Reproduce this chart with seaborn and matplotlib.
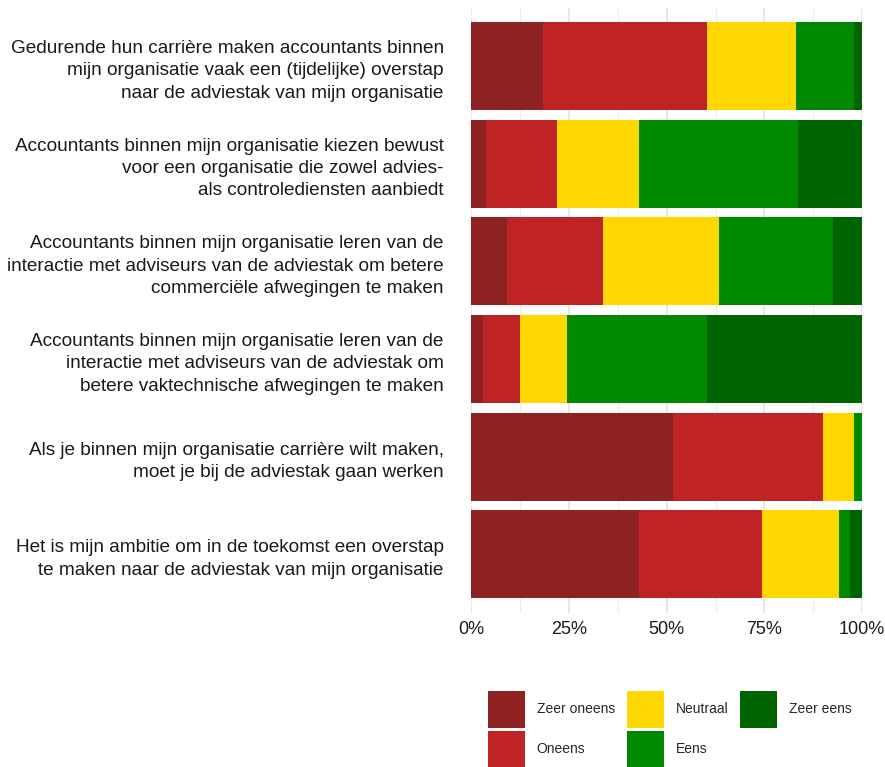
import matplotlib
matplotlib.use("Agg")
import matplotlib.pyplot as plt
import seaborn as sns
import pandas as pd
import numpy as np
from matplotlib.patches import Patch

categories = [
    "Gedurende hun carrière maken accountants binnen\nmijn organisatie vaak een (tijdelijke) overstap\nnaar de adviestak van mijn organisatie",
    "Accountants binnen mijn organisatie kiezen bewust\nvoor een organisatie die zowel advies-\nals controlediensten aanbiedt",
    "Accountants binnen mijn organisatie leren van de\ninteractie met adviseurs van de adviestak om betere\ncommerciële afwegingen te maken",
    "Accountants binnen mijn organisatie leren van de\ninteractie met adviseurs van de adviestak om\nbetere vaktechnische afwegingen te maken",
    "Als je binnen mijn organisatie carrière wilt maken,\nmoet je bij de adviestak gaan werken",
    "Het is mijn ambitie om in de toekomst een overstap\nte maken naar de adviestak van mijn organisatie",
]
levels = ["Zeer oneens", "Oneens", "Neutraal", "Eens", "Zeer eens"]
zeer_oneens = [18.3, 3.6, 9.2, 3.0, 51.5, 42.9]
oneens = [42.1, 18.4, 24.4, 9.5, 38.4, 31.6]
neutraal = [22.6, 21.0, 29.9, 12.0, 8.0, 19.6]
eens = [14.9, 40.7, 29.2, 35.9, 2.1, 2.8]
zeer_eens = [2.1, 16.3, 7.3, 39.6, 0.0, 3.1]
colors = ["#8E2222", "#C02323", "#FFD700", "#008800", "#006400"]
tick_vals = [0, 25, 50, 75, 100]
tick_labels = ["0%", "25%", "50%", "75%", "100%"]

df = pd.DataFrame({"vraag": categories, "Zeer oneens": zeer_oneens, "Oneens": oneens,
                   "Neutraal": neutraal, "Eens": eens, "Zeer eens": zeer_eens})
cum = df[levels].cumsum(axis=1)
cum["vraag"] = df["vraag"]

sns.set_style("white")
plt.rcParams["font.family"] = ["Liberation Sans", "DejaVu Sans"]

fig = plt.figure(figsize=(8.85, 7.67), dpi=100)
ax = fig.add_axes([471.5 / 885, 1 - 613 / 767, (862 - 471.5) / 885, (613 - 7.5) / 767])

for lvl, col in reversed(list(zip(levels, colors))):
    sns.barplot(data=cum, x=lvl, y="vraag", order=categories, orient="h",
                color=col, width=0.9, saturation=1, ax=ax, linewidth=0)

ax.set_xlim(0, 100)
ax.set_ylim(len(categories) - 0.4, -0.6)
ax.set_xticks(tick_vals)
ax.set_xticklabels(tick_labels)
ax.set_xticks([12.5, 37.5, 62.5, 87.5], minor=True)
ax.set_axisbelow(True)
ax.grid(axis="x", which="major", color="#E3E3E3", linewidth=1.2)
ax.grid(axis="x", which="minor", color="#EDEDED", linewidth=0.9)
ax.grid(axis="y", visible=False)
for s in ax.spines.values():
    s.set_visible(False)
ax.set_xlabel("")
ax.set_ylabel("")
ax.tick_params(axis="y", length=0, pad=20, labelsize=13.7, labelcolor="#1a1a1a")
ax.tick_params(axis="x", which="both", length=0, pad=6, labelsize=13, labelcolor="#1a1a1a")
for t in ax.get_yticklabels():
    t.set_multialignment("right")
    t.set_linespacing(1.42)

handles = [Patch(facecolor=c, edgecolor="none", label=l) for l, c in zip(levels, colors)]
fig.legend(handles=handles, loc="upper left", bbox_to_anchor=(488 / 885, 1 - 691 / 767),
           ncol=3, frameon=False, fontsize=10, handlelength=2.66, handleheight=3.72,
           labelspacing=0.2, handletextpad=0.85, columnspacing=0.85, borderpad=0,
           borderaxespad=0)

fig.savefig("out.png", dpi=100)
